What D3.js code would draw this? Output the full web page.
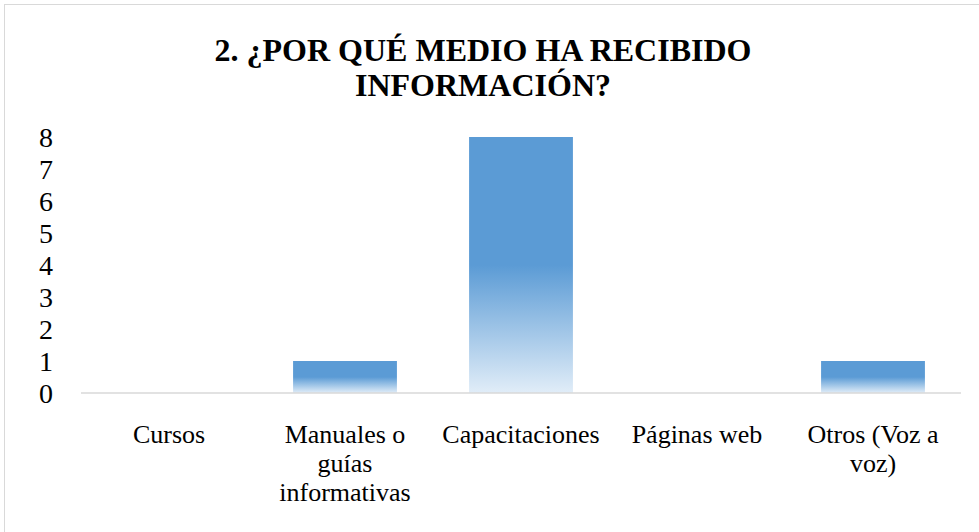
<!DOCTYPE html>
<html>
<head>
<meta charset="utf-8">
<script src="https://cdn.jsdelivr.net/npm/d3@7"></script>
<style>
  body { margin: 0; background: #fff; }
  svg { display: block; }
  svg text { font-family: 'Liberation Serif', 'Times New Roman', Times, serif; }
</style>
</head>
<body>
<div id="chart"></div>
<script>
const titleLines = ['2. ¿POR QUÉ MEDIO HA RECIBIDO', 'INFORMACIÓN?'];
const categories = ['Cursos', 'Manuales o guías informativas', 'Capacitaciones', 'Páginas web', 'Otros (Voz a voz)'];
const values = [0, 1, 8, 0, 1];
const yTicks = [0, 1, 2, 3, 4, 5, 6, 7, 8];

const width = 979, height = 532;
const margin = { left: 81, right: 18, top: 137, bottom: 139 };

const svg = d3.select('#chart').append('svg')
  .attr('width', width)
  .attr('height', height);

// gradient fill, solid on top half then fading
const grad = svg.append('defs').append('linearGradient')
  .attr('id', 'barGrad')
  .attr('x1', 0).attr('y1', 0).attr('x2', 0).attr('y2', 1);
grad.append('stop').attr('offset', '0%').attr('stop-color', '#5b9bd5');
grad.append('stop').attr('offset', '50%').attr('stop-color', '#5b9bd5');
grad.append('stop').attr('offset', '100%').attr('stop-color', '#e1edf8');

// chart border
svg.append('rect')
  .attr('x', 4.5).attr('y', 4.5)
  .attr('width', width + 10).attr('height', height + 10)
  .attr('fill', 'none')
  .attr('stroke', '#d9d9d9')
  .attr('stroke-width', 1);

const x = d3.scaleBand()
  .domain(categories)
  .range([margin.left, width - margin.right])
  .paddingInner(0.41)
  .paddingOuter(0.205);

const y = d3.scaleLinear()
  .domain([0, 8])
  .range([height - margin.bottom, margin.top]);

// title
svg.append('g').selectAll('text')
  .data(titleLines)
  .join('text')
    .attr('x', 483)
    .attr('y', (d, i) => 61 + i * 35)
    .attr('text-anchor', 'middle')
    .style('font-weight', 'bold')
    .style('font-size', '32px')
    .attr('fill', '#000')
    .text(d => d);

// y axis labels
const yAxis = d3.axisLeft(y)
  .tickValues(yTicks)
  .tickSize(0)
  .tickPadding(0)
  .tickFormat(d => d);
svg.append('g')
  .attr('transform', 'translate(53, 0)')
  .call(yAxis)
  .attr('font-family', null)
  .call(g => g.select('.domain').remove())
  .call(g => g.selectAll('text')
    .style('font-size', '28px')
    .attr('fill', '#000')
    .attr('dy', '0.34em'));

// bars
svg.append('g')
  .selectAll('rect')
  .data(values.map((v, i) => ({ cat: categories[i], v })).filter(d => d.v > 0))
  .join('rect')
    .attr('x', d => x(d.cat))
    .attr('y', d => y(d.v))
    .attr('width', x.bandwidth())
    .attr('height', d => y(0) - y(d.v))
    .attr('fill', 'url(#barGrad)');

// baseline
svg.append('line')
  .attr('x1', margin.left).attr('x2', width - margin.right)
  .attr('y1', y(0)).attr('y2', y(0))
  .attr('stroke', '#d9d9d9')
  .attr('stroke-width', 1.5);

// category labels, wrapped
const labels = svg.append('g')
  .selectAll('text')
  .data(categories)
  .join('text')
    .attr('text-anchor', 'middle')
    .style('font-size', '26px')
    .attr('fill', '#000')
    .attr('x', d => x(d) + x.bandwidth() / 2)
    .attr('y', 443);

labels.each(function(d) {
  const t = d3.select(this);
  const cx = x(d) + x.bandwidth() / 2;
  let line = [];
  let tspan = t.append('tspan').attr('x', cx).attr('dy', 0);
  for (const w of d.split(' ')) {
    line.push(w);
    tspan.text(line.join(' '));
    if (tspan.node().getComputedTextLength() > 150 && line.length > 1) {
      line.pop();
      tspan.text(line.join(' '));
      line = [w];
      tspan = t.append('tspan').attr('x', cx).attr('dy', 29).text(w);
    }
  }
});
</script>
</body>
</html>
